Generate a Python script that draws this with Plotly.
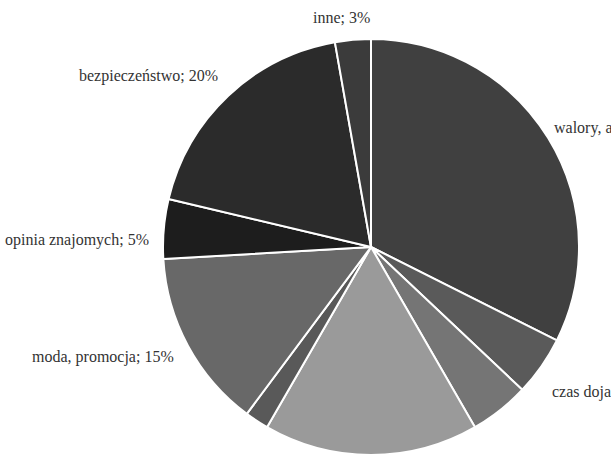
import plotly.graph_objects as go

# Survey answers (multiple choice, so shares add up to more than 100)
names = [
    "walory, atrakcyjność", "czas dojazdu", None, None, None,
    "moda, promocja", "opinia znajomych", "bezpieczeństwo", "inne",
]
shares = [35, 5, 5, 18, 2, 15, 5, 20, 3]
greys = [
    "#404040", "#5a5a5a", "#757575", "#9a9a9a", "#595959",
    "#686868", "#1d1d1d", "#2b2b2b", "#3b3b3b",
]

W, H = 611, 467
CX, CY, R = 371, 247, 208  # pie centre and radius in pixels

# Where each outside label sits (pixels from top-left) and how it is anchored
label_pos = {
    "walory, atrakcyjność": (552, 128, "left"),
    "czas dojazdu": (550, 392, "left"),
    "moda, promocja": (176, 357, "right"),
    "opinia znajomych": (151, 240, "right"),
    "bezpieczeństwo": (220, 76, "right"),
    "inne": (341, 17, "center"),
}

fig = go.Figure(
    go.Pie(
        values=shares,
        labels=[n if n else f"#{i}" for i, n in enumerate(names)],
        sort=False,
        direction="clockwise",
        rotation=0,
        marker=dict(colors=greys, line=dict(color="white", width=2)),
        textinfo="none",
        hoverinfo="skip",
        domain=dict(
            x=[(CX - R) / W, (CX + R) / W],
            y=[(H - CY - R) / H, (H - CY + R) / H],
        ),
    )
)

for name, val in zip(names, shares):
    if name is None:
        continue
    px, py, anchor = label_pos[name]
    fig.add_annotation(
        x=px / W, y=1 - py / H, xref="paper", yref="paper",
        text=f"{name}; {val}%", showarrow=False,
        xanchor=anchor, yanchor="middle",
        font=dict(family="Liberation Serif", size=16, color="#333333"),
    )

fig.update_layout(
    width=W, height=H,
    margin=dict(l=0, r=0, t=0, b=0),
    showlegend=False,
    paper_bgcolor="white",
    plot_bgcolor="white",
)

fig.write_html("out.html")
